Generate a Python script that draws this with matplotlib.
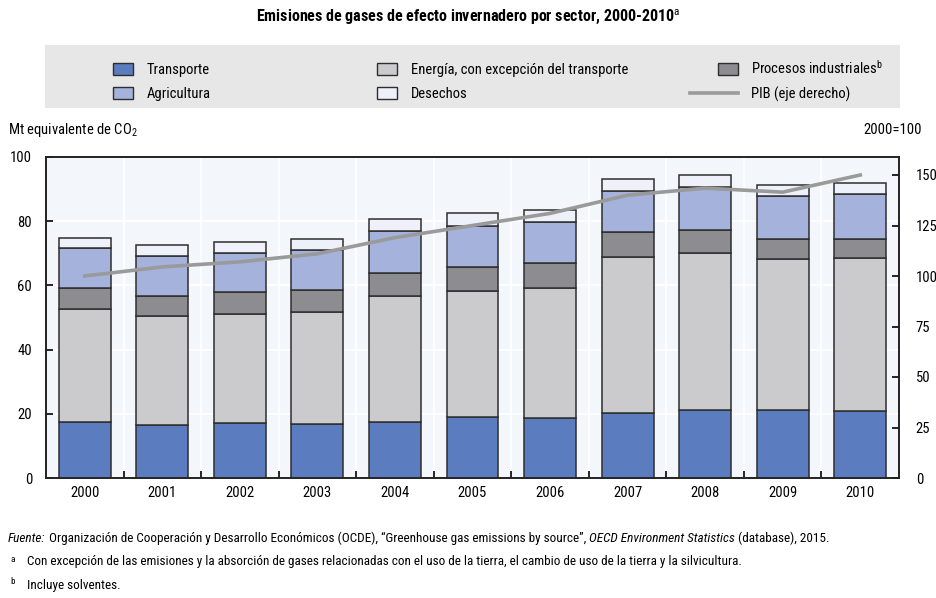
import numpy as np
import matplotlib
matplotlib.use("Agg")
import matplotlib.pyplot as plt
from matplotlib.patches import Patch, Rectangle
from matplotlib.lines import Line2D
from matplotlib.legend_handler import HandlerPatch
from matplotlib.text import Annotation

FONT = ['Roboto Condensed', 'DejaVu Sans']
plt.rcParams['font.family'] = FONT
plt.rcParams['mathtext.fontset'] = 'custom'
plt.rcParams['mathtext.rm'] = 'Roboto Condensed'
plt.rcParams['mathtext.it'] = 'Roboto Condensed:italic'

years = ['2000', '2001', '2002', '2003', '2004', '2005', '2006', '2007', '2008', '2009', '2010']

# stacked values (Mt CO2 eq)
transporte = [17.3, 16.5, 17.0, 16.8, 17.3, 19.0, 18.7, 20.2, 21.1, 21.1, 20.9]
energia = [35.2, 34.0, 34.1, 35.0, 39.4, 39.3, 40.5, 48.6, 49.0, 47.1, 47.6]
industria = [6.6, 6.3, 6.7, 6.8, 7.2, 7.4, 7.8, 7.8, 7.2, 6.3, 6.0]
agricultura = [12.4, 12.5, 12.2, 12.4, 13.0, 12.7, 12.7, 12.8, 13.4, 13.4, 14.0]
desechos = [3.4, 3.4, 3.4, 3.6, 3.7, 4.1, 3.8, 3.7, 3.7, 3.4, 3.4]

# PIB index, 2000=100
pib = [100, 104.5, 107, 111, 119, 125, 131, 140, 143.5, 141.5, 150]

colors = ['#5b7dbf', '#cbcbcd', '#8d8c91', '#a5b3dc', '#eef0fa']
labels = ['Transporte', 'Energía, con excepción del transporte',
          'Procesos industriales$^{\\mathrm{b}}$', 'Agricultura', 'Desechos']
series = [transporte, energia, industria, agricultura, desechos]
edge = '#2e2e2e'
line_col = '#9a9a9a'
fs = 10.5

fig = plt.figure(figsize=(9.36, 5.98), dpi=100)
ax = fig.add_axes([46 / 936, 1 - 478 / 598, (899 - 46) / 936, (478 - 157) / 598])
ax.set_facecolor('#f3f7fc')

x = np.arange(len(years))
bottom = np.zeros(len(years))
for vals, c in zip(series, colors):
    ax.bar(x, vals, width=0.67, bottom=bottom, color=c, edgecolor=edge,
           linewidth=1.1, zorder=3)
    bottom += np.array(vals)

ax.set_xlim(-0.5, len(years) - 0.5)
ax.set_ylim(0, 100)
ax.set_yticks([0, 20, 40, 60, 80, 100])
ax.set_xticks(x)
ax.set_xticklabels(years)
ax.set_xticks(np.arange(0.5, len(years) - 1, 1), minor=True)
ax.grid(axis='y', color='white', linewidth=1.2, zorder=0)
ax.grid(axis='x', which='minor', color='white', linewidth=1.2, zorder=0)
ax.tick_params(axis='x', which='major', length=0, labelsize=fs, pad=6)
ax.tick_params(axis='x', which='minor', direction='in', length=5, width=1.2)
ax.tick_params(axis='y', direction='in', length=5, width=1.2, labelsize=fs, pad=10)
for s in ax.spines.values():
    s.set_linewidth(1.2)
    s.set_color('#222222')

ax2 = ax.twinx()
ax2.plot(x, pib, color=line_col, linewidth=2.6, zorder=5)
ax2.set_ylim(0, 150 * 321 / 303)
ax2.set_yticks([0, 25, 50, 75, 100, 125, 150])
ax2.tick_params(axis='y', direction='in', length=5, width=1.2, labelsize=fs, pad=12)
for s in ax2.spines.values():
    s.set_linewidth(1.2)
    s.set_color('#222222')

# titles and axis captions
fig.text(0.5, 1 - 17 / 598,
         'Emisiones de gases de efecto invernadero por sector, 2000-2010$^{\\mathrm{a}}$',
         ha='center', va='center', fontsize=11.5, fontweight='bold')
fig.text(8 / 936, 1 - 130 / 598, 'Mt equivalente de CO$_2$', ha='left', va='center', fontsize=fs)
fig.text(922 / 936, 1 - 130 / 598, '2000=100', ha='right', va='center', fontsize=fs)

# legend panel
fig.patches.append(Rectangle((45 / 936, 1 - 108 / 598), (900 - 45) / 936, 63 / 598,
                             transform=fig.transFigure, facecolor='#e7e7e7',
                             edgecolor='none', zorder=0))


def short_patch(legend, orig_handle, xdescent, ydescent, width, height, fontsize):
    w = 14.4
    return Rectangle((-xdescent + width - w, -ydescent), w, height)


legend_cols = [
    ([Patch(facecolor=colors[0], edgecolor=edge, label=labels[0]),
      Patch(facecolor=colors[3], edgecolor=edge, label=labels[3])], 113, 63, 1.4, 0.7),
    ([Patch(facecolor=colors[1], edgecolor=edge, label=labels[1]),
      Patch(facecolor=colors[4], edgecolor=edge, label=labels[4])], 377, 63, 1.4, 0.7),
    ([Patch(facecolor=colors[2], edgecolor=edge, label=labels[2]),
      Line2D([0], [0], color=line_col, linewidth=2.6, label='PIB (eje derecho)')], 690, 59, 3.3, 0.7),
]
for handles, xpix, ypix, hl, ls in legend_cols:
    fig.legend(handles=handles, loc='upper left',
               bbox_to_anchor=(xpix / 936, 1 - ypix / 598),
               frameon=False, fontsize=fs, handlelength=hl, handleheight=0.9,
               handletextpad=0.9, labelspacing=ls, borderpad=0, borderaxespad=0,
               handler_map={Patch: HandlerPatch(patch_func=short_patch)})

# footnotes
ffs = 9.5


def chain(prev, txt, style='normal'):
    ann = Annotation(txt, xy=(1, 0), xycoords=prev, ha='left', va='bottom',
                     fontsize=ffs, style=style)
    fig.add_artist(ann)
    return ann


t = fig.text(8 / 936, 1 - 545 / 598, 'Fuente:', ha='left', va='bottom',
             fontsize=ffs, style='italic')
t = chain(t, ' Organización de Cooperación y Desarrollo Económicos (OCDE), “Greenhouse gas emissions by source”, ')
t = chain(t, 'OECD Environment Statistics', 'italic')
t = chain(t, ' (database), 2015.')

fig.text(10 / 936, 1 - 559 / 598, 'a', ha='left', va='center', fontsize=6.5)
fig.text(27 / 936, 1 - 562 / 598,
         'Con excepción de las emisiones y la absorción de gases relacionadas con el uso de la tierra, '
         'el cambio de uso de la tierra y la silvicultura.',
         ha='left', va='center', fontsize=ffs)
fig.text(10 / 936, 1 - 581 / 598, 'b', ha='left', va='center', fontsize=6.5)
fig.text(27 / 936, 1 - 585 / 598, 'Incluye solventes.', ha='left', va='center', fontsize=ffs)

fig.savefig('out.png', dpi=100)
